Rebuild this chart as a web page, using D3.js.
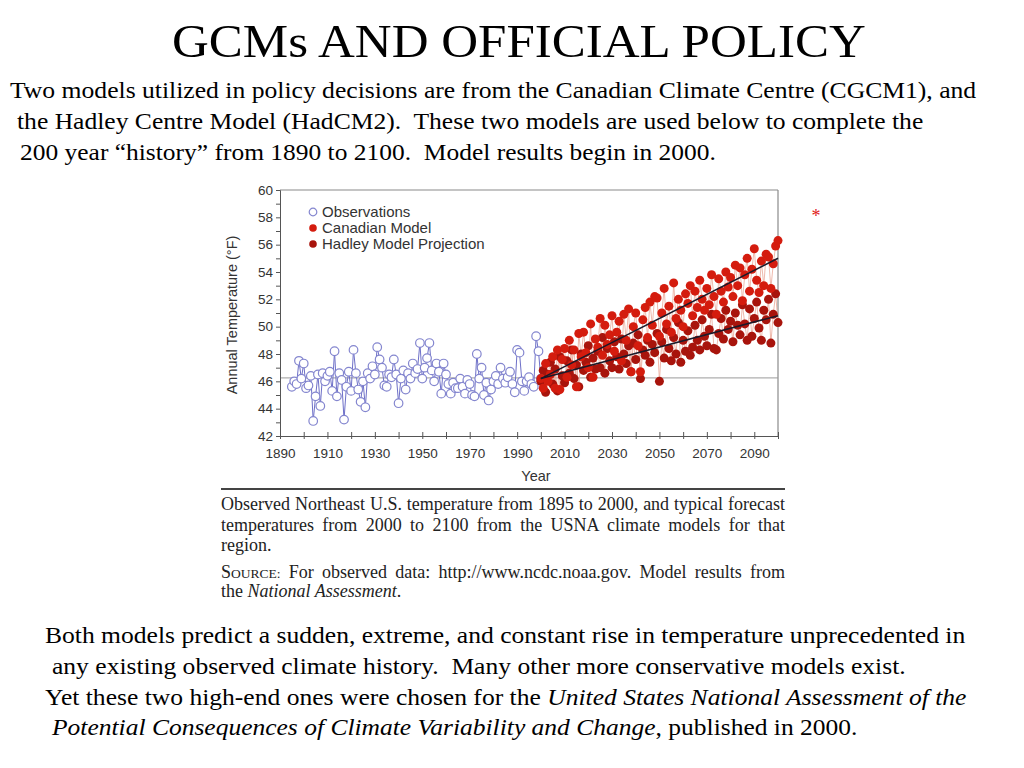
<!DOCTYPE html>
<html>
<head>
<meta charset="utf-8">
<script src="https://cdn.jsdelivr.net/npm/d3@7"></script>
<style>
  body { margin: 0; background: #fff; }
  svg { display: block; }
</style>
</head>
<body>
<div id="chart"></div>
<script>
// observed NE US annual temperature, 1895-2000 (°F)
var obsStart = 1895;
var observations = [
  45.6, 46.0, 45.8, 47.5, 46.2, 47.3, 45.5, 45.7, 46.4, 43.1,
  44.9, 46.5, 44.2, 46.6, 46.0, 46.4, 46.7, 45.3, 48.2, 44.9,
  46.6, 46.1, 43.2, 45.6, 46.7, 45.3, 48.3, 46.6, 45.4, 44.5,
  46.0, 44.1, 46.6, 46.2, 47.1, 46.5, 48.5, 47.6, 47.0, 45.7,
  45.6, 46.5, 46.3, 47.6, 46.5, 44.4, 46.2, 46.8, 45.4, 46.6,
  46.2, 47.3, 46.6, 46.9, 48.8, 46.2, 47.0, 47.7, 48.8, 46.8,
  46.0, 47.3, 46.7, 45.1, 47.3, 46.5, 45.8, 45.1, 45.9, 45.5,
  45.5, 46.2, 45.6, 45.1, 46.1, 45.8, 45.0, 44.9, 48.0, 46.2,
  47.0, 45.0, 45.9, 44.6, 45.4, 46.0, 46.4, 45.8, 47.0, 46.2,
  45.9, 46.3, 46.7, 45.8, 45.2, 48.3, 48.1, 46.0, 45.3, 46.0,
  46.3, 45.8, 45.6, 49.3, 48.2, 46.2
];

// model runs, 2000-2100 (°F)
var modelStart = 2000;
var canadian = [
  46.2, 45.5, 47.3, 46.0, 46.5, 47.8, 45.5, 48.3, 45.4, 47.6,
  48.4, 46.3, 49.0, 47.2, 48.3, 45.6, 49.5, 47.8, 49.6, 48.1,
  47.0, 50.2, 46.3, 49.1, 48.5, 50.6, 47.9, 50.1, 48.7, 49.4,
  50.8, 48.2, 49.6, 50.4, 47.5, 50.9, 49.0, 51.3, 46.7, 50.0,
  51.0, 48.6, 46.7, 50.5, 51.4, 49.2, 51.8, 50.1, 52.2, 52.1,
  49.3, 51.0, 52.8, 50.2, 51.5, 49.6, 53.2, 50.6, 52.0, 51.2,
  50.0, 52.4, 51.7, 53.0, 50.8, 52.6, 51.4, 53.4, 52.0, 51.2,
  52.8, 51.6, 53.8, 52.2, 50.9, 53.5, 52.6, 51.8, 54.0, 52.9,
  53.6, 52.2, 54.5, 53.0, 54.3, 51.9, 53.8, 55.0, 52.6, 54.2,
  55.7, 53.4, 52.5, 54.8, 53.0, 55.3, 55.1, 52.8, 54.6, 55.9,
  56.3
];
var hadley = [
  46.0, 46.8, 45.2, 46.5, 47.4, 45.8, 46.9, 45.3, 47.8, 46.4,
  45.9, 47.5, 46.6, 48.3, 46.2, 47.2, 45.6, 48.0, 46.8, 47.4,
  48.6, 46.3, 47.7, 46.9, 48.2, 47.0, 49.2, 46.6, 48.4, 47.5,
  47.0, 48.9, 47.8, 46.9, 49.1, 48.0, 47.3, 48.6, 46.7, 48.8,
  47.6, 49.4, 46.2, 48.3, 47.9, 49.0, 47.4, 48.7, 48.1, 49.5,
  46.0, 48.9, 47.7, 49.8, 48.4, 47.5, 49.2, 48.0, 50.3, 47.4,
  49.0, 48.2, 49.7, 47.9, 48.5, 50.1, 49.0, 48.3, 50.5, 49.3,
  48.6, 49.8, 50.9, 48.4, 48.3, 49.5, 50.6, 49.1, 51.2, 49.8,
  50.4, 48.9, 51.0, 50.1, 49.4, 51.6, 50.2, 49.0, 51.3, 49.3,
  50.6, 51.8, 49.9, 49.0, 51.2, 50.5, 52.0, 48.8, 50.9, 52.4,
  50.3
];

// straight trend lines through each model run
var trendYears = [2000, 2100];
var canadianTrend = [46.2, 55.0];
var hadleyTrend = [46.2, 50.8];
var baseline = 46.25;

var yTicks = [42, 44, 46, 48, 50, 52, 54, 56, 58, 60];
var xTicks = [1890, 1910, 1930, 1950, 1970, 1990, 2010, 2030, 2050, 2070, 2090];

var legendLabels = ["Observations", "Canadian Model", "Hadley Model Projection"];

var obsColor = "#8486cf";
var canColor = "#d41c0e";
var hadColor = "#a8140c";

var svg = d3.select("#chart")
    .append("svg")
    .attr("width", 1024)
    .attr("height", 768);

var serif = "'Liberation Serif', 'Times New Roman', serif";
var sans = "'Liberation Sans', Arial, sans-serif";

// stretch a text horizontally so it spans a given width from x
function fitWidth(sel, x, w) {
    var n = sel.node().getComputedTextLength();
    sel.attr("x", 0)
        .attr("transform", `translate(${x},0) scale(${w / n},1)`);
}

// justify a line by widening the word gaps
function justify(sel, w, gaps) {
    var n = sel.node().getComputedTextLength();
    gaps = gaps || sel.text().split(" ").length - 1;
    sel.style("word-spacing", ((w - n) / gaps) + "px");
}

// ---- slide text ----
var title = svg.append("text")
    .attr("y", 57)
    .style("font-family", serif).style("font-size", "47px")
    .text("GCMs AND OFFICIAL POLICY");
fitWidth(title, 172, 694);

var intro = [
    { x: 10, y: 98, w: 967, t: "Two models utilized in policy decisions are from the Canadian Climate Centre (CGCM1), and" },
    { x: 17, y: 129, w: 907, t: "the Hadley Centre Model (HadCM2).  These two models are used below to complete the" },
    { x: 20, y: 160, w: 696, t: "200 year \u201chistory\u201d from 1890 to 2100.  Model results begin in 2000." }
];
intro.forEach(function (d) {
    var t = svg.append("text")
        .attr("y", d.y)
        .attr("xml:space", "preserve")
        .style("font-family", serif).style("font-size", "23.5px")
        .text(d.t);
    fitWidth(t, d.x, d.w);
});

svg.append("text")
    .attr("x", 816).attr("y", 222)
    .attr("text-anchor", "middle")
    .style("font-family", serif).style("font-size", "18px")
    .attr("fill", "#e0201a")
    .text("*");

// ---- chart ----
var x = d3.scaleLinear().domain([1890, 2100]).range([280, 778]);
var y = d3.scaleLinear().domain([42, 60]).range([436, 190]);

var g = svg.append("g");

// frame: top and right edges, baseline
g.append("line")
    .attr("x1", x(1890)).attr("x2", x(2100))
    .attr("y1", y(60)).attr("y2", y(60))
    .attr("stroke", "#8a8a8a").attr("stroke-width", 1.2);
g.append("line")
    .attr("x1", x(2100)).attr("x2", x(2100))
    .attr("y1", y(60)).attr("y2", y(42))
    .attr("stroke", "#8a8a8a").attr("stroke-width", 1.2);
g.append("line")
    .attr("x1", x(1890)).attr("x2", x(2100))
    .attr("y1", y(baseline)).attr("y2", y(baseline))
    .attr("stroke", "#9a9a9a").attr("stroke-width", 1);

// y axis with minor ticks
var yAxis = d3.axisLeft(y)
    .tickValues(d3.range(42, 60.5, 1))
    .tickFormat(d => yTicks.includes(d) ? d : "")
    .tickSize(4).tickPadding(3);
var ya = g.append("g")
    .attr("transform", `translate(${x(1890)},0)`)
    .call(yAxis);
ya.select(".domain").attr("stroke", "#555");
ya.selectAll(".tick line").attr("stroke", "#555");
ya.selectAll(".tick text")
    .style("font-family", sans).style("font-size", "13.5px").attr("fill", "#333");

// x axis, ticks cross the line
var xAxis = d3.axisBottom(x)
    .tickValues(d3.range(1890, 2101, 10))
    .tickFormat(d => xTicks.includes(d) ? d : "")
    .tickSizeInner(4).tickSizeOuter(0).tickPadding(8);
var xa = g.append("g")
    .attr("transform", `translate(0,${y(42)})`)
    .call(xAxis);
xa.select(".domain").attr("stroke", "#555");
xa.selectAll(".tick line").attr("stroke", "#555").attr("y1", -4).attr("y2", 3);
xa.selectAll(".tick text")
    .style("font-family", sans).style("font-size", "13.5px").attr("fill", "#333");

g.append("text")
    .attr("transform", `translate(237,${(y(42) + y(60)) / 2 + 2}) rotate(-90)`)
    .attr("text-anchor", "middle")
    .style("font-family", sans).style("font-size", "14.5px").attr("fill", "#333")
    .text("Annual Temperature (\u00b0F)");

g.append("text")
    .attr("x", 536).attr("y", 481)
    .attr("text-anchor", "middle")
    .style("font-family", sans).style("font-size", "14.5px").attr("fill", "#333")
    .text("Year");

// observations
var obsData = observations.map((v, i) => ({ year: obsStart + i, t: v }));
var line = d3.line().x(d => x(d.year)).y(d => y(d.t));

g.append("path")
    .datum(obsData)
    .attr("d", line)
    .attr("fill", "none")
    .attr("stroke", "#6e70c8")
    .attr("stroke-width", 1);

g.selectAll(".obs")
    .data(obsData)
    .enter()
    .append("circle")
    .attr("class", "obs")
    .attr("cx", d => x(d.year))
    .attr("cy", d => y(d.t))
    .attr("r", 4.3)
    .attr("fill", "#fff")
    .attr("stroke", obsColor)
    .attr("stroke-width", 1.2);

// model runs
var canData = canadian.map((v, i) => ({ year: modelStart + i, t: v }));
var hadData = hadley.map((v, i) => ({ year: modelStart + i, t: v }));

[hadData, canData].forEach(function (d) {
    g.append("path")
        .datum(d)
        .attr("d", line)
        .attr("fill", "none")
        .attr("stroke", "#eaa898")
        .attr("stroke-width", 0.8);
});

g.selectAll(".had")
    .data(hadData)
    .enter()
    .append("circle")
    .attr("class", "had")
    .attr("cx", d => x(d.year))
    .attr("cy", d => y(d.t))
    .attr("r", 4.5)
    .attr("fill", hadColor);

g.selectAll(".can")
    .data(canData)
    .enter()
    .append("circle")
    .attr("class", "can")
    .attr("cx", d => x(d.year))
    .attr("cy", d => y(d.t))
    .attr("r", 4.5)
    .attr("fill", canColor);

// trend lines
[canadianTrend, hadleyTrend].forEach(function (tr) {
    g.append("path")
        .datum(trendYears.map((yr, i) => ({ year: yr, t: tr[i] })))
        .attr("d", line)
        .attr("stroke", "#1a1a2a")
        .attr("stroke-width", 1.6)
        .attr("fill", "none");
});

// legend
var legend = g.selectAll(".legend")
    .data(legendLabels)
    .enter()
    .append("g")
    .attr("class", "legend")
    .attr("transform", (d, i) => `translate(313,${212 + i * 16})`);

legend.append("circle")
    .attr("r", 3.8)
    .attr("fill", (d, i) => i === 0 ? "#fff" : (i === 1 ? canColor : hadColor))
    .attr("stroke", (d, i) => i === 0 ? obsColor : "none")
    .attr("stroke-width", 1.2);

legend.append("text")
    .attr("x", 9).attr("dy", "0.35em")
    .style("font-family", sans).style("font-size", "15px").attr("fill", "#333")
    .text(d => d);

// ---- caption ----
svg.append("line")
    .attr("x1", 221).attr("x2", 785)
    .attr("y1", 489).attr("y2", 489)
    .attr("stroke", "#444").attr("stroke-width", 2);

var capFont = "'Liberation Serif', 'DejaVu Serif', serif";
var caption = [
    { y: 510, t: "Observed Northeast U.S. temperature from 1895 to 2000, and typical forecast", just: true },
    { y: 531, t: "temperatures from 2000 to 2100 from the USNA climate models for that", just: true },
    { y: 551, t: "region.", just: false }
];
caption.forEach(function (d) {
    var t = svg.append("text")
        .attr("x", 221).attr("y", d.y)
        .style("font-family", capFont).style("font-size", "18px").attr("fill", "#222")
        .text(d.t);
    if (d.just) justify(t, 564);
});

var src = svg.append("text")
    .attr("x", 221).attr("y", 578)
    .style("font-family", capFont).style("font-size", "18px").attr("fill", "#222");
src.append("tspan").text("S");
src.append("tspan").style("font-size", "13.5px").text("OURCE:");
src.append("tspan").text(" For observed data: http://www.ncdc.noaa.gov. Model results from");
justify(src, 564, 7);

var src2 = svg.append("text")
    .attr("x", 221).attr("y", 597)
    .style("font-family", capFont).style("font-size", "18px").attr("fill", "#222");
src2.append("tspan").text("the ");
src2.append("tspan").style("font-style", "italic").text("National Assessment");
src2.append("tspan").text(".");

// ---- closing paragraph ----
function para(x, y, w, parts) {
    var t = svg.append("text")
        .attr("y", y)
        .attr("xml:space", "preserve")
        .style("font-family", serif).style("font-size", "23.5px");
    parts.forEach(function (p) {
        t.append("tspan").style("font-style", p.i ? "italic" : "normal").text(p.s);
    });
    fitWidth(t, x, w);
}
para(45, 643, 921, [{ s: "Both models predict a sudden, extreme, and constant rise in temperature unprecedented in" }]);
para(52, 674, 854, [{ s: "any existing observed climate history.  Many other more conservative models exist." }]);
para(45, 705, 922, [{ s: "Yet these two high-end ones were chosen for the " },
                    { s: "United States National Assessment of the", i: true }]);
para(52, 735, 806, [{ s: "Potential Consequences of Climate Variability and Change", i: true },
                    { s: ", published in 2000." }]);
</script>
</body>
</html>
